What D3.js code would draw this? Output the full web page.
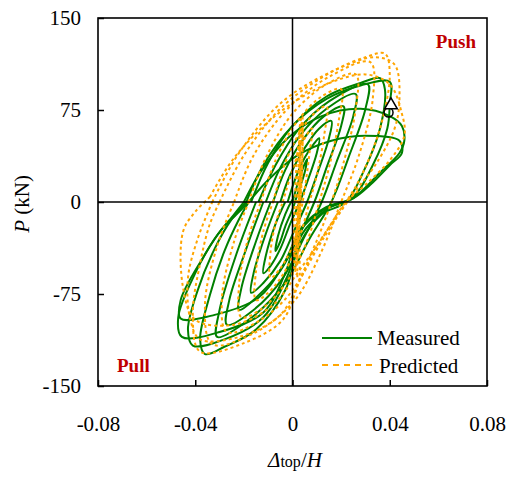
<!DOCTYPE html>
<html>
<head>
<meta charset="utf-8">
<script src="https://cdn.jsdelivr.net/npm/d3@7"></script>
<style>
body { margin:0; background:#fff; }
</style>
</head>
<body>
<div id="chart"></div>
<script>
// axis ticks
var xTicks = [-0.08, -0.04, 0, 0.04, 0.08];
var yTicks = [-150, -75, 0, 75, 150];

// measured cycles [drift, P(kN)]
var measured = [
	[[0,0],[0.002,14],[0.004,26],[0.006,35],[0.005,24],[0.002,6],[0.000,-6],[-0.003,-20],[-0.005,-32],[-0.007,-40],[-0.006,-28],[-0.003,-10],[0,2]],
	[[-0.002,0],[0.001,18],[0.005,36],[0.009,48],[0.011,52],[0.010,40],[0.006,16],[0.003,0],[-0.001,-18],[-0.005,-38],[-0.009,-52],[-0.012,-58],[-0.011,-44],[-0.007,-18],[-0.003,0]],
	[[-0.005,0],[-0.001,22],[0.005,44],[0.011,60],[0.016,66],[0.015,52],[0.010,22],[0.006,0],[0.001,-22],[-0.005,-48],[-0.012,-66],[-0.017,-74],[-0.016,-58],[-0.011,-26],[-0.006,0]],
	[[-0.008,0],[-0.003,26],[0.004,50],[0.013,70],[0.021,78],[0.020,62],[0.014,28],[0.009,0],[0.003,-26],[-0.005,-56],[-0.015,-78],[-0.022,-88],[-0.021,-70],[-0.015,-32],[-0.009,0]],
	[[-0.011,0],[-0.005,28],[0.003,54],[0.014,76],[0.026,88],[0.025,70],[0.018,32],[0.012,0],[0.005,-28],[-0.004,-62],[-0.016,-88],[-0.027,-100],[-0.026,-80],[-0.019,-38],[-0.012,0]],
	[[-0.014,0],[-0.007,30],[0.002,58],[0.015,82],[0.031,96],[0.030,76],[0.023,36],[0.016,0],[0.007,-30],[-0.003,-66],[-0.018,-96],[-0.031,-110],[-0.030,-88],[-0.023,-42],[-0.015,0]],
	[[-0.017,0],[-0.010,32],[0.000,62],[0.014,86],[0.028,97],[0.036,101],[0.038,92],[0.036,60],[0.029,24],[0.022,0],[0.012,-10],[0.003,-34],[-0.003,-72],[-0.015,-104],[-0.028,-118],[-0.036,-124],[-0.038,-112],[-0.034,-76],[-0.028,-40],[-0.022,-14],[-0.018,0]],
	[[-0.019,0],[-0.012,30],[0.000,62],[0.014,84],[0.028,95],[0.040,98],[0.040,80],[0.039,60],[0.033,30],[0.025,4],[0.014,-6],[0.004,-26],[-0.002,-60],[-0.012,-94],[-0.028,-112],[-0.041,-117],[-0.043,-104],[-0.039,-72],[-0.032,-38],[-0.025,-14],[-0.019,0]],
	[[-0.020,0],[-0.013,25],[-0.002,52],[0.012,70],[0.028,76],[0.040,70],[0.045,62],[0.046,50],[0.044,40],[0.036,24],[0.028,8],[0.024,2],[0.013,-6],[0.003,-24],[-0.003,-58],[-0.012,-90],[-0.030,-106],[-0.0455,-110],[-0.047,-94],[-0.040,-58],[-0.032,-30],[-0.024,-10],[-0.020,0]],
	[[-0.018,0],[-0.010,18],[0.002,38],[0.016,50],[0.030,54],[0.044,50],[0.045,40],[0.040,30],[0.032,14],[0.025,3],[0.014,-4],[0.004,-20],[-0.004,-52],[-0.014,-78],[-0.032,-92],[-0.046,-95],[-0.046,-80],[-0.037,-46],[-0.029,-22],[-0.023,-10],[-0.018,0]]
];

// predicted cycles [drift, P(kN)]
var predicted = [
	[[-0.004,0],[0.000,26],[0.004,48],[0.008,60],[0.007,40],[0.005,10],[0.003,-12],[0.000,-36],[-0.005,-54],[-0.009,-62],[-0.009,-40],[-0.007,-18],[-0.004,0]],
	[[-0.008,0],[-0.003,32],[0.004,60],[0.010,74],[0.014,78],[0.013,54],[0.010,22],[0.007,0],[0.003,-28],[-0.003,-56],[-0.010,-74],[-0.015,-80],[-0.015,-56],[-0.012,-24],[-0.008,0]],
	[[-0.013,0],[-0.007,34],[0.002,66],[0.012,86],[0.020,92],[0.019,66],[0.015,28],[0.011,0],[0.006,-32],[-0.002,-64],[-0.012,-86],[-0.021,-94],[-0.022,-68],[-0.018,-28],[-0.013,0]],
	[[-0.018,0],[-0.011,36],[0.000,72],[0.014,96],[0.026,104],[0.026,76],[0.021,32],[0.016,0],[0.009,-36],[0.000,-72],[-0.013,-96],[-0.027,-106],[-0.029,-78],[-0.024,-32],[-0.018,0]],
	[[-0.024,0],[-0.016,38],[-0.002,76],[0.015,102],[0.032,114],[0.033,84],[0.027,36],[0.020,0],[0.012,-40],[0.001,-80],[-0.015,-106],[-0.033,-116],[-0.036,-84],[-0.031,-36],[-0.024,0]],
	[[-0.030,0],[-0.020,38],[-0.004,78],[0.016,106],[0.030,118],[0.038,121],[0.040,104],[0.036,60],[0.028,20],[0.022,0],[0.010,-36],[0.003,-64],[-0.004,-96],[-0.020,-115],[-0.038,-122],[-0.041,-92],[-0.038,-50],[-0.034,-18],[-0.030,0]],
	[[-0.033,0],[-0.022,40],[-0.004,82],[0.018,108],[0.034,118],[0.042,112],[0.044,84],[0.042,60],[0.034,30],[0.024,4],[0.012,-32],[0.004,-60],[-0.005,-92],[-0.022,-110],[-0.038,-112],[-0.042,-96],[-0.043,-62],[-0.039,-30],[-0.033,0]],
	[[-0.034,4],[-0.024,36],[-0.006,72],[0.014,96],[0.030,104],[0.040,96],[0.045,72],[0.046,54],[0.040,34],[0.030,14],[0.022,0],[0.012,-30],[0.002,-58],[-0.008,-84],[-0.024,-100],[-0.040,-96],[-0.045,-70],[-0.045,-24],[-0.040,-8],[-0.034,4]],
	[[0.001,-55],[0.002,-20],[0.003,20],[0.003,55],[0.004,66],[0.003,40],[0.002,0],[0.001,-35],[0.000,-60]],
	[[0.002,-50],[0.002,0],[0.003,45],[0.004,60],[0.004,30],[0.003,-10],[0.002,-45],[0.001,-58]],
	[[0.000,-40],[0.001,0],[0.002,40],[0.003,50],[0.003,20],[0.002,-20],[0.001,-42]],
	[[0.003,-60],[0.003,-10],[0.004,35],[0.004,70],[0.003,62],[0.003,10],[0.002,-40],[0.002,-62]]
];

// marked points
var circlePt = [0.0395, 73];
var trianglePt = [0.0405, 79];

var W = 513, H = 477;
var m = {l:98, r:26, t:18, b:91};
var serif = "'Liberation Serif'";

var svg = d3.select('#chart').append('svg')
	.attr('width', W)
	.attr('height', H);

var x = d3.scaleLinear().domain([-0.08, 0.08]).range([m.l, W-m.r]);
var y = d3.scaleLinear().domain([-150, 150]).range([H-m.b, m.t]);

var line = d3.line()
	.x(d=>x(d[0]))
	.y(d=>y(d[1]))
	.curve(d3.curveCatmullRom.alpha(0.5));

var plot = svg.append('g');

plot.selectAll('path.meas')
	.data(measured)
	.enter()
	.append('path')
		.attr('class', 'meas')
		.attr('d', line)
		.attr('fill', 'none')
		.attr('stroke', '#008000')
		.attr('stroke-width', 2);

plot.selectAll('path.pred')
	.data(predicted)
	.enter()
	.append('path')
		.attr('class', 'pred')
		.attr('d', line)
		.attr('fill', 'none')
		.attr('stroke', '#FFA500')
		.attr('stroke-width', 2)
		.attr('stroke-dasharray', '3,3');

// zero lines
svg.append('line')
	.attr('x1', x(0)).attr('x2', x(0))
	.attr('y1', y(150)).attr('y2', y(-150))
	.attr('stroke', '#000').attr('stroke-width', 1.5);
svg.append('line')
	.attr('x1', x(-0.08)).attr('x2', x(0.08))
	.attr('y1', y(0)).attr('y2', y(0))
	.attr('stroke', '#000').attr('stroke-width', 1.5);

// frame
svg.append('rect')
	.attr('x', x(-0.08)).attr('y', y(150))
	.attr('width', x(0.08)-x(-0.08))
	.attr('height', y(-150)-y(150))
	.attr('fill', 'none')
	.attr('stroke', '#000')
	.attr('stroke-width', 1.6);

var x_axis = d3.axisBottom(x).tickValues(xTicks).tickSize(-6).tickPadding(30)
	.tickFormat(d=>d===0 ? '0' : d3.format('.2f')(d).replace('\u2212', '-'));
var y_axis = d3.axisLeft(y).tickValues(yTicks).tickSize(-6).tickPadding(17)
	.tickFormat(d=>d);

svg.append('g')
	.attr('transform', 'translate(0,'+y(-150)+')')
	.call(x_axis)
	.call(g=>g.select('.domain').remove())
	.call(g=>g.selectAll('line').attr('stroke-width', 1.5))
	.call(g=>g.selectAll('text').attr('font-size', 21).attr('fill', '#000')
		.style('font-family', serif));

svg.append('g')
	.attr('transform', 'translate('+x(-0.08)+',0)')
	.call(y_axis)
	.call(g=>g.select('.domain').remove())
	.call(g=>g.selectAll('line').attr('stroke-width', 1.5))
	.call(g=>g.selectAll('text').attr('font-size', 21).attr('fill', '#000')
		.style('font-family', serif));

// markers
svg.append('circle')
	.attr('cx', x(circlePt[0])).attr('cy', y(circlePt[1]))
	.attr('r', 4.5)
	.attr('fill', 'none').attr('stroke', '#000').attr('stroke-width', 1.5);
svg.append('path')
	.attr('d', d3.symbol().type(d3.symbolTriangle).size(70))
	.attr('transform', 'translate('+x(trianglePt[0])+','+y(trianglePt[1])+')')
	.attr('fill', '#fff').attr('stroke', '#000').attr('stroke-width', 1.5);

// push / pull
svg.append('text')
	.attr('x', 476).attr('y', 48)
	.attr('text-anchor', 'end')
	.style('font-family', serif)
	.attr('font-size', 19).attr('font-weight', 'bold').attr('fill', '#C00000')
	.text('Push');
svg.append('text')
	.attr('x', 117).attr('y', 372)
	.style('font-family', serif)
	.attr('font-size', 19).attr('font-weight', 'bold').attr('fill', '#C00000')
	.text('Pull');

// legend
var legend = svg.append('g');
legend.append('line')
	.attr('x1', 322).attr('x2', 372).attr('y1', 338).attr('y2', 338)
	.attr('stroke', '#008000').attr('stroke-width', 2);
legend.append('line')
	.attr('x1', 322).attr('x2', 372).attr('y1', 365).attr('y2', 365)
	.attr('stroke', '#FFA500').attr('stroke-width', 2).attr('stroke-dasharray', '6,5');
legend.append('text').attr('x', 377).attr('y', 345).attr('font-size', 21)
	.style('font-family', serif).text('Measured');
legend.append('text').attr('x', 379).attr('y', 373).attr('font-size', 21)
	.style('font-family', serif).text('Predicted');

// axis labels
var xl = svg.append('text')
	.attr('x', 295).attr('y', 467)
	.attr('text-anchor', 'middle')
	.style('font-family', serif)
	.attr('font-size', 21);
xl.append('tspan').attr('font-style', 'italic').text('\u0394');
xl.append('tspan').attr('font-size', 16).text('top');
xl.append('tspan').text('/');
xl.append('tspan').attr('font-style', 'italic').text('H');

var yl = svg.append('text')
	.attr('transform', 'translate(29,'+(y(0)+2)+') rotate(-90)')
	.attr('text-anchor', 'middle')
	.style('font-family', serif)
	.attr('font-size', 21);
yl.append('tspan').attr('font-style', 'italic').text('P');
yl.append('tspan').text(' (kN)');
</script>
</body>
</html>
